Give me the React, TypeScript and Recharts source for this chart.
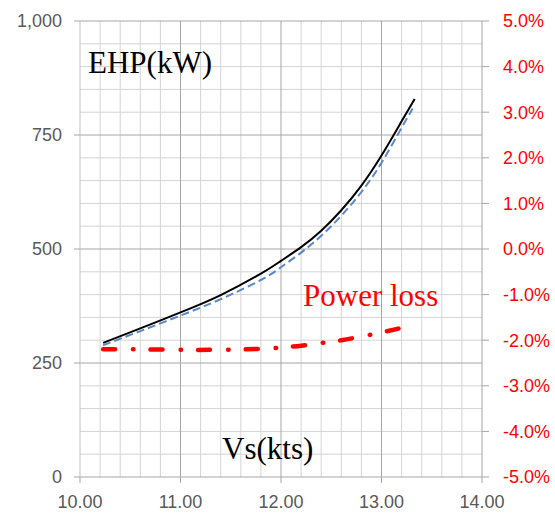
import React from 'react';
import { LineChart, Line, XAxis, YAxis, ReferenceLine } from 'recharts';

const xTicks = [10, 11, 12, 13, 14];
const leftTicks = [0, 250, 500, 750, 1000];
const rightTicks = [-5, -4, -3, -2, -1, 0, 1, 2, 3, 4, 5];
const minorX = [10.2, 10.4, 10.6, 10.8, 11.2, 11.4, 11.6, 11.8, 12.2, 12.4, 12.6, 12.8, 13.2, 13.4, 13.6, 13.8];
const majorX = [11, 12, 13];
const minorY = [50, 100, 150, 200, 300, 350, 400, 450, 550, 600, 650, 700, 800, 850, 900, 950];
const majorY = [250, 500, 750, 1000];

const ehp = [
  { x: 10.23, y: 294 },
  { x: 10.6, y: 326 },
  { x: 11.0, y: 361 },
  { x: 11.4, y: 399 },
  { x: 11.8, y: 446 },
  { x: 12.0, y: 474 },
  { x: 12.2, y: 504 },
  { x: 12.4, y: 540 },
  { x: 12.6, y: 585 },
  { x: 12.8, y: 639 },
  { x: 13.0, y: 705 },
  { x: 13.2, y: 780 },
  { x: 13.33, y: 829 },
];

const ehpLoss = [
  { x: 10.23, y: 289 },
  { x: 10.6, y: 320 },
  { x: 11.0, y: 354 },
  { x: 11.4, y: 390 },
  { x: 11.8, y: 432 },
  { x: 12.0, y: 460 },
  { x: 12.2, y: 492 },
  { x: 12.4, y: 529 },
  { x: 12.6, y: 573 },
  { x: 12.8, y: 625 },
  { x: 13.0, y: 689 },
  { x: 13.2, y: 766 },
  { x: 13.31, y: 808 },
];

const powerLoss = [
  { x: 10.23, y: -2.2 },
  { x: 10.6, y: -2.2 },
  { x: 11.0, y: -2.21 },
  { x: 11.4, y: -2.21 },
  { x: 11.8, y: -2.19 },
  { x: 12.0, y: -2.16 },
  { x: 12.2, y: -2.12 },
  { x: 12.4, y: -2.06 },
  { x: 12.6, y: -2.0 },
  { x: 12.8, y: -1.92 },
  { x: 13.0, y: -1.83 },
  { x: 13.18, y: -1.74 },
];

const minorColor = '#D4D4D4';
const majorColor = '#A6A6A6';
const tickFont = { fontFamily: '"Liberation Sans", Arial, sans-serif', fontSize: 18 };
const serif = '"Liberation Serif", "Times New Roman", serif';

export default function App() {
  return (
    <div style={{ position: 'absolute', left: 0, top: 0, width: 555, height: 514 }}>
      <LineChart width={555} height={514} margin={{ top: 21, right: 0, bottom: 0, left: 0 }}>
        <XAxis
          dataKey="x"
          type="number"
          domain={[10, 14]}
          ticks={xTicks}
          tickFormatter={(v: number) => v.toFixed(2)}
          height={37}
          tickSize={6}
          tickMargin={12}
          axisLine={{ stroke: majorColor }}
          tickLine={{ stroke: majorColor }}
          tick={{ ...tickFont, fill: '#595959' }}
          allowDataOverflow
        />
        <YAxis
          yAxisId="left"
          orientation="left"
          type="number"
          domain={[0, 1000]}
          ticks={leftTicks}
          tickFormatter={(v: number) => v.toLocaleString('en-US')}
          width={80}
          tickSize={6}
          tickMargin={12}
          axisLine={{ stroke: '#BFBFBF' }}
          tickLine={{ stroke: majorColor }}
          tick={{ ...tickFont, fill: '#595959' }}
        />
        <YAxis
          yAxisId="right"
          orientation="right"
          type="number"
          domain={[-5, 5]}
          ticks={rightTicks}
          tickFormatter={(v: number) => v.toFixed(1) + '%'}
          width={73}
          tickSize={7}
          tickMargin={14}
          axisLine={{ stroke: majorColor }}
          tickLine={{ stroke: majorColor }}
          tick={{ ...tickFont, fill: '#FF0000' }}
        />
        {minorX.map((v) => (
          <ReferenceLine key={'mx' + v} x={v} yAxisId="left" stroke={minorColor} strokeWidth={1} />
        ))}
        {minorY.map((v) => (
          <ReferenceLine key={'my' + v} y={v} yAxisId="left" stroke={minorColor} strokeWidth={1} />
        ))}
        {majorX.map((v) => (
          <ReferenceLine key={'Mx' + v} x={v} yAxisId="left" stroke={majorColor} strokeWidth={1} />
        ))}
        {majorY.map((v) => (
          <ReferenceLine key={'My' + v} y={v} yAxisId="left" stroke={majorColor} strokeWidth={1} />
        ))}
        <Line
          data={powerLoss}
          dataKey="y"
          yAxisId="right"
          type="natural"
          stroke="#FF0000"
          strokeWidth={4.5}
          strokeDasharray="12 18 0.5 17"
          strokeLinecap="round"
          dot={false}
          activeDot={false}
          isAnimationActive={false}
        />
        <Line
          data={ehp}
          dataKey="y"
          yAxisId="left"
          type="natural"
          stroke="#000000"
          strokeWidth={2}
          dot={false}
          activeDot={false}
          isAnimationActive={false}
        />
        <Line
          data={ehpLoss}
          dataKey="y"
          yAxisId="left"
          type="natural"
          stroke="#5A87C8"
          strokeWidth={2}
          strokeDasharray="8 4"
          dot={false}
          activeDot={false}
          isAnimationActive={false}
        />
      </LineChart>
      <svg
        width={555}
        height={514}
        style={{ position: 'absolute', left: 0, top: 0, pointerEvents: 'none' }}
      >
        <text x={88} y={73} fontFamily={serif} fontSize={31} fill="#000000">EHP(kW)</text>
        <text x={303} y={306} fontFamily={serif} fontSize={31} fill="#FF0000">Power loss</text>
        <text x={222} y={459} fontFamily={serif} fontSize={31} fill="#000000">Vs(kts)</text>
      </svg>
    </div>
  );
}
